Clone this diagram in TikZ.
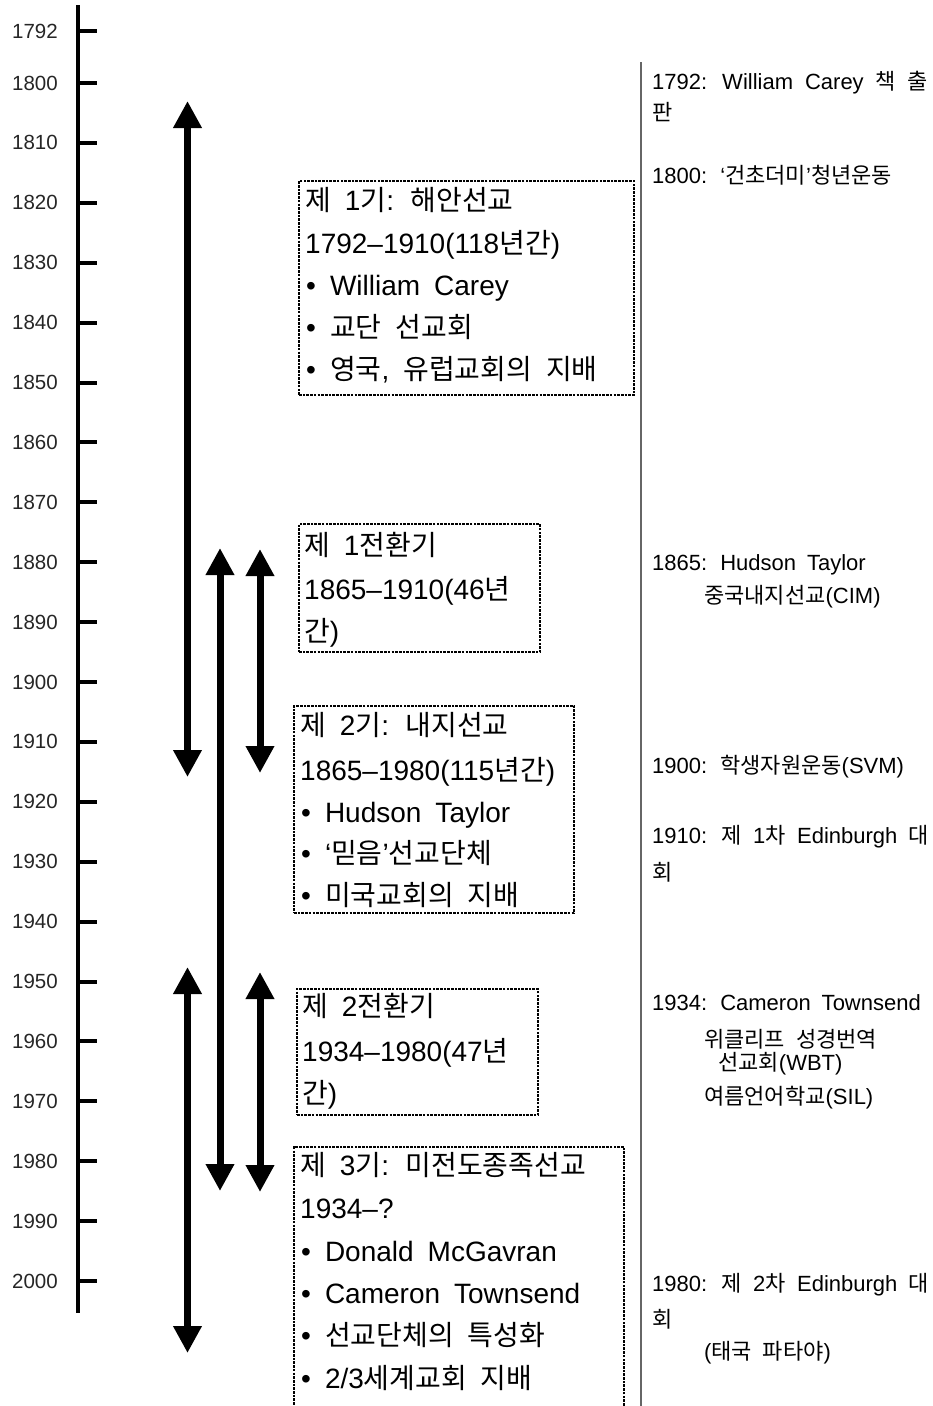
\documentclass[tikz,border=0pt]{standalone}
\usepackage{fontspec}
\setmainfont{Liberation Sans}
\newfontfamily\krfont{Noto Sans CJK KR}
\usetikzlibrary{arrows.meta}
\newcommand\KR[1]{{\krfont #1}}
\newcommand\boxfont{\fontsize{28}{42}\selectfont\spaceskip=0.5em plus 0.2em minus 0.05em\relax}
\newcommand\sidefont{\fontsize{22}{30}\selectfont\spaceskip=0.5em plus 1em minus 0.05em\relax}
\newcommand\yearfont{\fontsize{20.5}{24}\selectfont}
\begin{document}
\begin{tikzpicture}[x=1pt,y=-1pt,
  boxline/.style={line width=2.1pt, dash pattern=on 2.6pt off 1.1pt},
  periodbox/.style={boxline, draw, anchor=north west, inner sep=0pt},
  boxtxt/.style={anchor=base west, inner sep=0pt, font=\boxfont},
  sidetxt/.style={anchor=base west, inner sep=0pt, font=\sidefont},
  yearlab/.style={anchor=east, inner sep=0pt, font=\yearfont, text=black!85},
  axisline/.style={line width=3.5pt},
  tickline/.style={line width=4pt},
  dblarrow/.style={line width=7pt, {Triangle[width=27pt,length=27pt]}-{Triangle[width=27pt,length=27pt]}},
  panelline/.style={draw=black!60, line width=1.2pt}
]
\useasboundingbox (0,0) rectangle (933,1406);
\clip (0,0) rectangle (933,1406);

% time axis
\coordinate (axtop) at (78,5);
\coordinate (axbot) at (78,1313);
\draw[axisline] (axtop) -- (axbot);
\draw[tickline] (78,31) -- (97,31);
\node[yearlab] (y1792) at (58,31) {1792};
\foreach \yr [count=\i from 0] in {1800,1810,...,2000} {
  \pgfmathsetmacro\yy{83+59.9*\i}
  \draw[tickline] (78,\yy) -- (97,\yy);
  \node[yearlab] (y\yr) at (58,\yy) {\yr};
}

% arrows
\coordinate (a1t) at (187.5,101);  \coordinate (a1b) at (187.5,777);
\coordinate (a2t) at (220,548);    \coordinate (a2b) at (220,1191);
\coordinate (a3t) at (260,549);    \coordinate (a3b) at (260,773);
\coordinate (a4t) at (187.5,967);  \coordinate (a4b) at (187.5,1353);
\coordinate (a5t) at (260,972);    \coordinate (a5b) at (260,1192);
\draw[dblarrow] (a1t) -- (a1b);
\draw[dblarrow] (a2t) -- (a2b);
\draw[dblarrow] (a3t) -- (a3b);
\draw[dblarrow] (a4t) -- (a4b);
\draw[dblarrow] (a5t) -- (a5b);

% period boxes
\node[periodbox, minimum width=335pt, minimum height=214pt] (B1) at (298,180) {};
\node[boxtxt] (b1a) at (305,210) {\KR{제} 1\KR{기}: \KR{해안선교}};
\node[boxtxt] (b1b) at (305,253) {1792–1910(118\KR{년간})};
\node[boxtxt] (b1c) at (306,295) {• William Carey};
\node[boxtxt] (b1d) at (306,337) {• \KR{교단 선교회}};
\node[boxtxt] (b1e) at (306,379) {• \KR{영국}, \KR{유럽교회의 지배}};

\node[periodbox, minimum width=241pt, minimum height=128pt] (B2) at (298,523) {};
\node[boxtxt] (b2a) at (304,555) {\KR{제} 1\KR{전환기}};
\node[boxtxt] (b2b) at (304,599) {1865–1910(46\KR{년}};
\node[boxtxt] (b2c) at (304,641) {\KR{간})};

\node[periodbox, minimum width=280pt, minimum height=207pt] (B3) at (293,705) {};
\node[boxtxt] (b3a) at (300,735) {\KR{제} 2\KR{기}: \KR{내지선교}};
\node[boxtxt] (b3b) at (300,780) {1865–1980(115\KR{년간})};
\node[boxtxt] (b3c) at (301,822) {• Hudson Taylor};
\node[boxtxt] (b3d) at (301,863) {• ‘\KR{믿음}’\KR{선교단체}};
\node[boxtxt] (b3e) at (301,905) {• \KR{미국교회의 지배}};

\node[periodbox, minimum width=241pt, minimum height=126pt] (B4) at (296,988) {};
\node[boxtxt] (b4a) at (302,1016) {\KR{제} 2\KR{전환기}};
\node[boxtxt] (b4b) at (302,1061) {1934–1980(47\KR{년}};
\node[boxtxt] (b4c) at (302,1103) {\KR{간})};

\node[periodbox, minimum width=330pt, minimum height=280pt] (B5) at (293,1146) {};
\node[boxtxt] (b5a) at (300,1175) {\KR{제} 3\KR{기}: \KR{미전도종족선교}};
\node[boxtxt] (b5b) at (300,1218) {1934–?};
\node[boxtxt] (b5c) at (301,1261) {• Donald McGavran};
\node[boxtxt] (b5d) at (301,1303) {• Cameron Townsend};
\node[boxtxt] (b5e) at (301,1345) {• \KR{선교단체의 특성화}};
\node[boxtxt] (b5f) at (301,1388) {• 2/3\KR{세계교회 지배}};

% right panel
\coordinate (ptop) at (641,62);
\coordinate (pbot) at (641,1406);
\draw[panelline] (ptop) -- (pbot);
\node[sidetxt] (r1) at (652,89) {\makebox[276pt][s]{1792: William Carey \KR{책} \KR{출}}};
\node[sidetxt] (r2) at (652,120) {\KR{판}};
\node[sidetxt] (r3) at (652,183) {1800: ‘\KR{건초더미}’\KR{청년운동}};
\node[sidetxt] (r4) at (652,570) {1865: Hudson Taylor};
\node[sidetxt] (r5) at (704,603) {\KR{중국내지선교}(CIM)};
\node[sidetxt] (r6) at (652,773) {1900: \KR{학생자원운동}(SVM)};
\node[sidetxt] (r7) at (652,843) {\makebox[277pt][s]{1910: \KR{제} 1\KR{차} Edinburgh \KR{대}}};
\node[sidetxt] (r8) at (652,880) {\KR{회}};
\node[sidetxt] (r9) at (652,1010) {1934: Cameron Townsend};
\node[sidetxt] (r10) at (704,1047) {\KR{위클리프 성경번역}};
\node[sidetxt] (r11) at (718,1070) {\KR{선교회}(WBT)};
\node[sidetxt] (r12) at (704,1104) {\KR{여름언어학교}(SIL)};
\node[sidetxt] (r13) at (652,1291) {\makebox[277pt][s]{1980: \KR{제} 2\KR{차} Edinburgh \KR{대}}};
\node[sidetxt] (r14) at (652,1327) {\KR{회}};
\node[sidetxt] (r15) at (704,1359) {(\KR{태국 파타야})};
\end{tikzpicture}
\end{document}
